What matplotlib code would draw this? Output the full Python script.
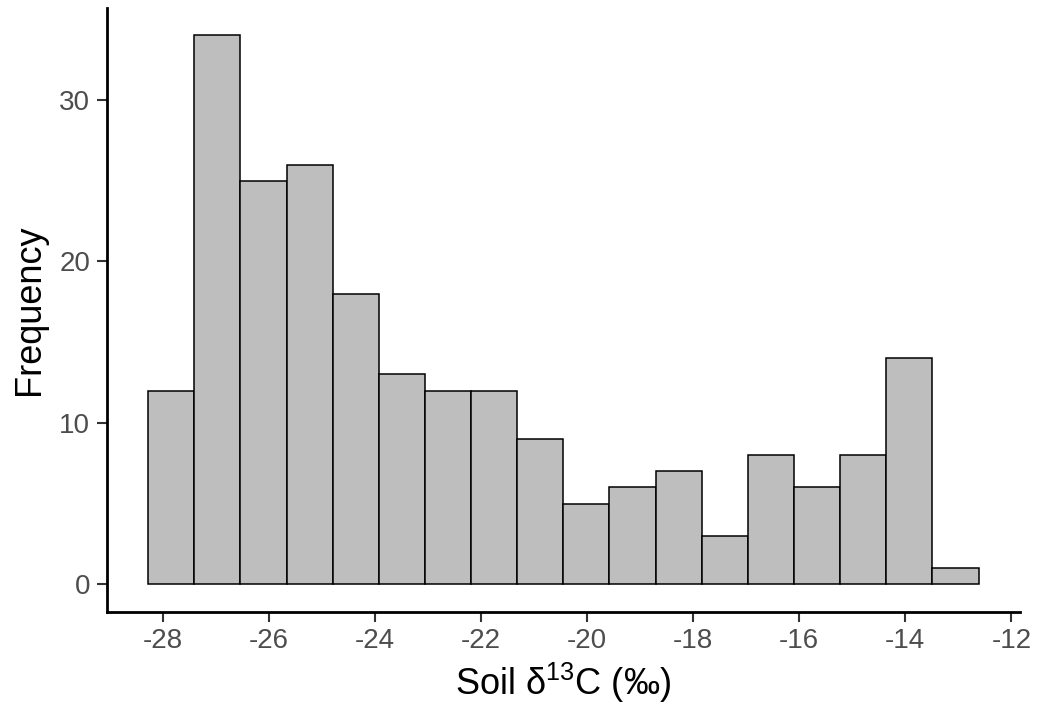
import numpy as np
import matplotlib.pyplot as plt

# histogram bins (18 bins, width ~0.87)
bin_start = -28.28
bin_width = 0.87
counts = [12, 34, 25, 26, 18, 13, 12, 12, 9, 5, 6, 7, 3, 8, 6, 8, 14, 1]
x_ticks = [-28, -26, -24, -22, -20, -18, -16, -14, -12]
y_ticks = [0, 10, 20, 30]

plt.rcParams['font.family'] = ['Liberation Sans', 'DejaVu Sans']
plt.rcParams['mathtext.default'] = 'regular'
plt.rcParams['axes.unicode_minus'] = False

edges = bin_start + bin_width * np.arange(len(counts) + 1)

fig = plt.figure(figsize=(10.4, 7.17), dpi=100)
ax = fig.add_axes([0.1026, 0.1469, 0.8782, 0.8419])

ax.bar(edges[:-1], counts, width=bin_width, align='edge',
       color='#BEBEBE', edgecolor='black', linewidth=1.1)

span = edges[-1] - edges[0]
ax.set_xlim(edges[0] - 0.05 * span, edges[-1] + 0.05 * span)
ax.set_ylim(-0.05 * max(counts), 1.05 * max(counts))
ax.set_xticks(x_ticks)
ax.set_yticks(y_ticks)

for s in ['top', 'right']:
    ax.spines[s].set_visible(False)
for s in ['left', 'bottom']:
    ax.spines[s].set_linewidth(2.0)
    ax.spines[s].set_color('black')

ax.tick_params(axis='both', length=7, width=1.5, color='#333333',
               labelsize=20, labelcolor='#4D4D4D', pad=5)

ax.set_xlabel('Soil δ$^{13}$C (‰)', fontsize=26, labelpad=5)
ax.set_ylabel('Frequency', fontsize=26, labelpad=9)

plt.savefig('out.png', dpi=100)
